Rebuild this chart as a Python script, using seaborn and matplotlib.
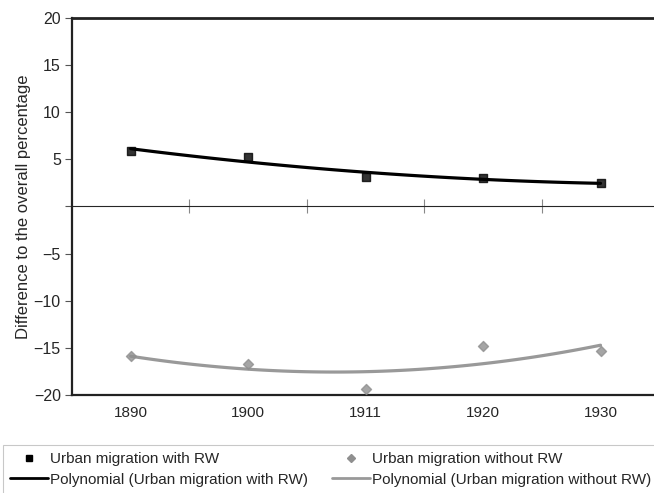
import matplotlib
matplotlib.use("Agg")
import matplotlib.pyplot as plt
import seaborn as sns
import numpy as np
from matplotlib.lines import Line2D

# Valores
anos = ["1890", "1900", "1911", "1920", "1930"]
com_rw = [5.93, 5.29, 3.13, 2.98, 2.49]
sem_rw = [-15.85, -16.73, -19.32, -14.82, -15.35]
y_ticks = [-20, -15, -10, -5, 0, 5, 10, 15, 20]

sns.set_style("white")
plt.rcParams['font.family'] = ['Liberation Sans', 'DejaVu Sans']

fig = plt.figure(figsize=(6.54, 4.93), dpi=100)
ax = fig.add_axes([0.110, 0.1988, 0.898, 0.7647])

pos = np.arange(len(anos))

# Linhas de tendência polinomial (ordem 2) e pontos
sns.regplot(x=pos, y=com_rw, order=2, ci=None, ax=ax, marker="s",
            scatter_kws=dict(color="black", s=36, zorder=4),
            line_kws=dict(color="black", lw=2.3))
sns.regplot(x=pos, y=sem_rw, order=2, ci=None, ax=ax, marker="D",
            scatter_kws=dict(color="#8f8f8f", s=26, zorder=4),
            line_kws=dict(color="#999999", lw=2.3))

ax.set_xlim(-0.5, 4.5)
ax.set_ylim(-20, 20)
ax.set_yticks(y_ticks)
ax.set_yticklabels(["" if v == 0 else str(v).replace("-", "\u2212") for v in y_ticks])
ax.set_xticks(pos)
ax.set_xticklabels(anos)
ax.tick_params(axis="x", length=0, pad=8, labelsize=11)
ax.tick_params(axis="y", left=True, length=5, width=0.8, color="#555555", labelsize=11.5, pad=3)
ax.set_ylabel("Difference to the overall percentage", fontsize=12, labelpad=2)

for lado in ["left", "bottom", "top"]:
    ax.spines[lado].set_visible(True)
    ax.spines[lado].set_color("#222222")
    ax.spines[lado].set_linewidth(1.6)
ax.spines["top"].set_linewidth(2)
ax.spines["right"].set_visible(False)

# Linha do zero com marcas entre as categorias
eixo_zero = ax.secondary_xaxis(0.5)
eixo_zero.set_xticks(pos[:-1] + 0.5)
eixo_zero.set_xticklabels([])
eixo_zero.tick_params(direction="inout", length=10, width=0.8, color="#888888")
eixo_zero.spines["bottom"].set_color("#999999")
eixo_zero.spines["bottom"].set_linewidth(0.8)

handles = [
    Line2D([], [], ls="", marker="s", color="black", markersize=5),
    Line2D([], [], color="black", lw=2),
    Line2D([], [], ls="", marker="D", color="#8f8f8f", markersize=4),
    Line2D([], [], color="#999999", lw=2),
]
labels = [
    "Urban migration with RW",
    "Polynomial (Urban migration with RW)",
    "Urban migration without RW",
    "Polynomial (Urban migration without RW)",
]
leg = fig.legend(handles, labels, ncol=2, loc="upper left",
                 bbox_to_anchor=(0.0046, 0.0974), fontsize=11,
                 frameon=True, fancybox=False, handlelength=2.5,
                 handletextpad=0.1, columnspacing=1.6, borderaxespad=0,
                 borderpad=0.45, labelspacing=0.45)
leg.get_frame().set_edgecolor("#bbbbbb")
leg.get_frame().set_linewidth(0.8)

fig.savefig("out.png", dpi=100)
